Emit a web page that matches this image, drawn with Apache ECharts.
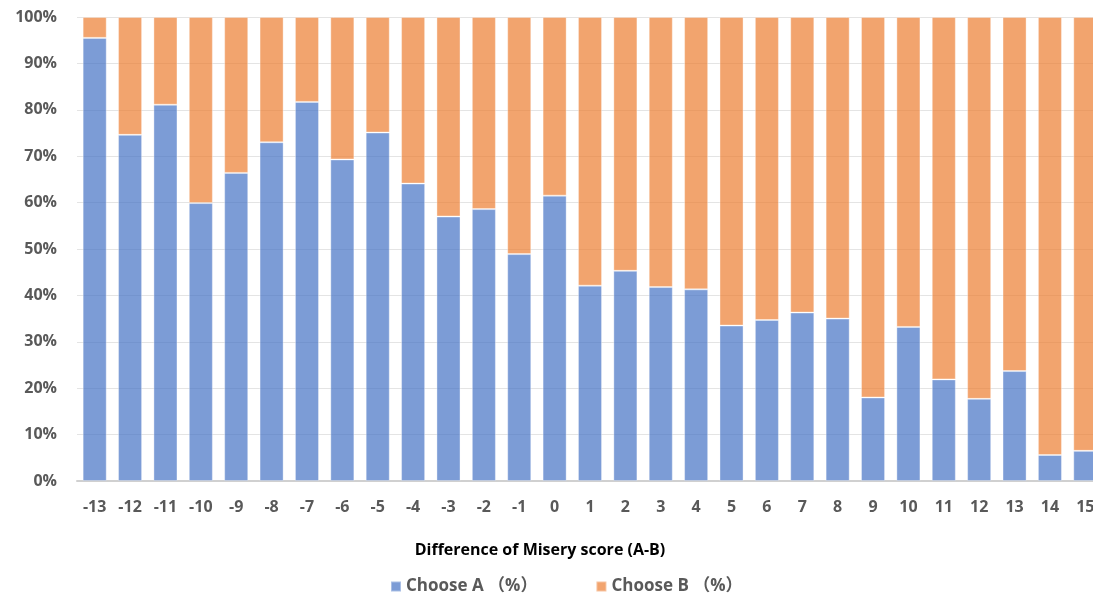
<!DOCTYPE html>
<html>
<head>
<meta charset="utf-8">
<script src="https://cdn.jsdelivr.net/npm/echarts@6/dist/echarts.min.js"></script>
<style>
html,body{margin:0;padding:0;background:#fff;overflow:hidden;width:1093px;height:597px;}
#chart{width:1103px;height:597px;}
</style>
</head>
<body>
<div id="chart"></div>
<script>
var categories = ['-13','-12','-11','-10','-9','-8','-7','-6','-5','-4','-3','-2','-1','0','1','2','3','4','5','6','7','8','9','10','11','12','13','14','15'];
var chooseA = [95.5,74.6,81.1,59.9,66.4,73.0,81.7,69.3,75.1,64.1,57.0,58.6,48.9,61.5,42.1,45.3,41.8,41.3,33.5,34.7,36.3,35.0,18.0,33.2,21.9,17.7,23.7,5.6,6.5];
var chooseB = [4.5,25.4,18.9,40.1,33.6,27.0,18.3,30.7,24.9,35.9,43.0,41.4,51.1,38.5,57.9,54.7,58.2,58.7,66.5,65.3,63.7,65.0,82.0,66.8,78.1,82.3,76.3,94.4,93.5];
var yTicks = [0,10,20,30,40,50,60,70,80,90,100];

var chart = echarts.init(document.getElementById('chart'));
var font = '"Open Sans", "Noto Sans CJK SC", sans-serif';
chart.setOption({
  animation: false,
  textStyle: {fontFamily: font},
  grid: {left: 77, right: 0, top: 17, bottom: 116},
  legend: {
    left: 385, top: 573,
    icon: 'rect', itemWidth: 10, itemHeight: 10, itemGap: 58,
    textStyle: {fontFamily: font, fontSize: 17, fontWeight: 'bold', color: '#595959'},
    data: ['Choose A （%）', 'Choose B （%）']
  },
  xAxis: {
    type: 'category',
    data: categories,
    name: 'Difference of Misery score (A-B)',
    nameLocation: 'middle',
    nameGap: 61,
    nameTextStyle: {fontFamily: font, fontSize: 16, fontWeight: 'bold', color: '#000', padding: [0, 100, 0, 0]},
    axisLine: {lineStyle: {color: '#d0d0d0', width: 2}},
    axisTick: {show: false},
    axisLabel: {fontFamily: font, fontSize: 16, fontWeight: 'bold', color: '#595959', margin: 18, interval: 0}
  },
  yAxis: {
    type: 'value',
    min: yTicks[0], max: yTicks[yTicks.length - 1], interval: 10,
    axisLine: {show: false},
    axisTick: {show: false},
    splitLine: {lineStyle: {color: '#e4e4e4', width: 1}},
    axisLabel: {fontFamily: font, fontSize: 16, fontWeight: 'bold', color: '#595959', margin: 20,
      formatter: function (v) { return v + '%'; }}
  },
  series: [
    {
      name: 'Choose A （%）', type: 'bar', stack: 'total', data: chooseA,
      barCategoryGap: '32%', z: 1,
      itemStyle: {color: 'rgba(68,114,196,0.7)', borderColor: 'rgba(255,255,255,0.35)', borderWidth: 1}
    },
    {
      name: 'Choose B （%）', type: 'bar', stack: 'total', data: chooseB,
      barCategoryGap: '32%', z: 1,
      itemStyle: {color: 'rgba(237,125,49,0.7)', borderColor: 'rgba(255,255,255,0.35)', borderWidth: 1}
    }
  ]
});
</script>
</body>
</html>
